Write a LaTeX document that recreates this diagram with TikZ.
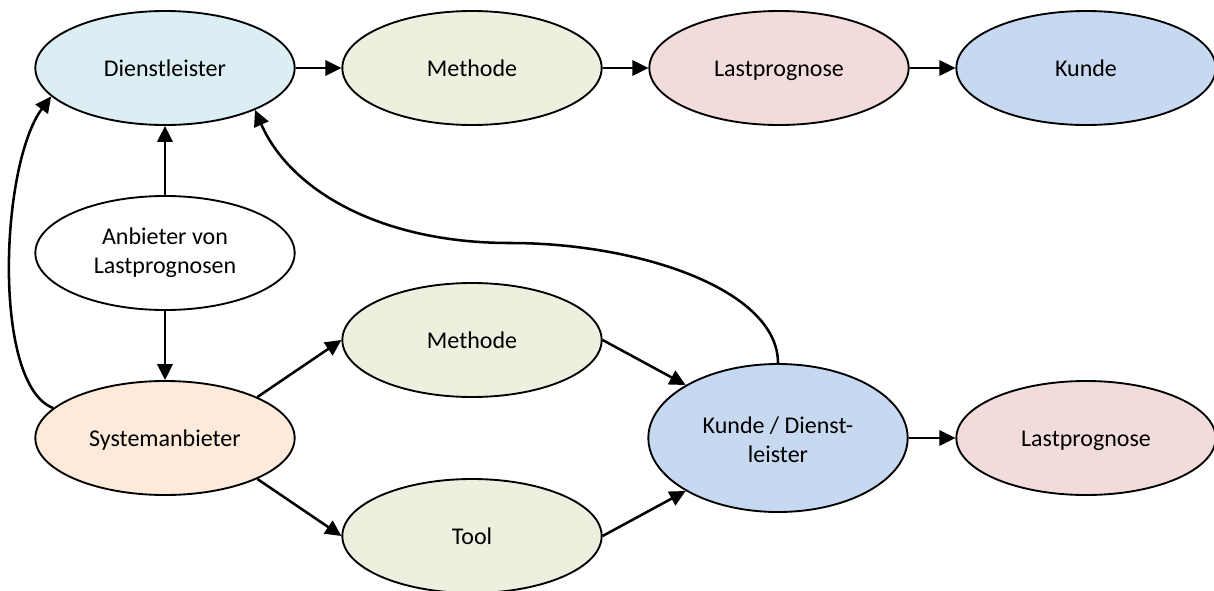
\documentclass[tikz,border=0pt]{standalone}
\usepackage{fontspec}
\setmainfont{Carlito}
\usetikzlibrary{shapes.geometric,arrows.meta}
\definecolor{cblue}{HTML}{DAEEF3}
\definecolor{cgreen}{HTML}{EBF1DE}
\definecolor{cred}{HTML}{F2DCDB}
\definecolor{cdblue}{HTML}{C6D9F1}
\definecolor{corange}{HTML}{FDEADA}
\newcommand{\oneline}{\rule[-6.5pt]{0pt}{25pt}}
\tikzset{
ell/.style={ellipse,draw=black,line width=1.4pt,minimum width=194.5pt,minimum height=85.5pt,inner sep=0pt,align=center,font=\fontsize{18}{21.75}\selectfont},
arr/.style={line width=1.9pt,-{Triangle[length=12pt,width=11.5pt]}}}
\begin{document}
\begin{tikzpicture}[x=0.75pt,y=-0.75pt]
\useasboundingbox (0,0) rectangle (1214,590);
\node[ell,fill=cblue] (d) at (165,68) {\oneline Dienstleister};
\node[ell,fill=cgreen] (m) at (472,68) {\oneline Methode};
\node[ell,fill=cred] (l) at (779,68) {\oneline Lastprognose};
\node[ell,fill=cdblue] (k) at (1086,68) {\oneline Kunde};
\node[ell,fill=white] (a) at (165,253) {\strut Anbieter von\\\strut Lastprognosen};
\node[ell,fill=corange] (s) at (165,438) {\oneline Systemanbieter};
\node[ell,fill=cgreen] (m2) at (472,340) {\oneline Methode};
\node[ell,fill=cgreen] (t) at (472,536) {\oneline Tool};
\node[ell,fill=cdblue,minimum height=111pt] (kd) at (778,438) {\rule{0pt}{21.2pt}Kunde / Dienst-\\\strut leister};
\node[ell,fill=cred] (l2) at (1086,438) {\oneline Lastprognose};
\draw[arr] (d) -- (m);
\draw[arr] (m) -- (l);
\draw[arr] (l) -- (k);
\draw[arr] (a) -- (d);
\draw[arr] (a) -- (s);
\draw[arr] (s.north east) -- (m2.west);
\draw[arr] (s.south east) -- (t.west);
\draw[arr] (m2.east) -- (kd.north west);
\draw[arr] (t.east) -- (kd.south west);
\draw[arr] (kd) -- (l2);
\draw[arr] (s.165) .. controls (-8,385) and (0,165) .. (d.194.5);
\draw[arr] (kd.north) .. controls (778,290) and (640,243) .. (510,243) .. controls (380,243) and (290,190) .. (d.335);
\end{tikzpicture}
\end{document}
